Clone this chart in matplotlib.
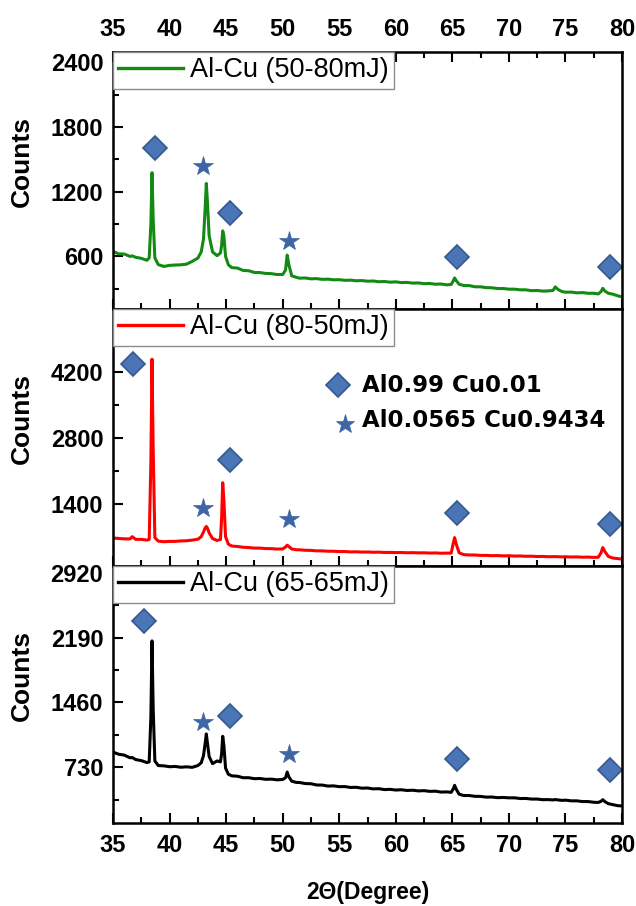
import matplotlib
matplotlib.use("Agg")
import matplotlib.pyplot as plt
from matplotlib.ticker import MultipleLocator, FixedLocator

# ---------------- data ----------------
two_theta = [35.0, 35.5, 36.0, 36.5, 36.7, 37.0, 37.5, 38.0, 38.2, 38.35,
             38.45, 38.55, 38.7, 39.0, 39.5, 40.0, 40.5, 41.0, 41.5, 42.0,
             42.5, 42.8, 43.0, 43.15, 43.25, 43.35, 43.5, 43.8, 44.2, 44.5,
             44.6, 44.7, 44.8, 44.95, 45.2, 45.5, 46.0, 46.5, 47.0, 47.5,
             48.0, 48.5, 49.0, 49.5, 50.0, 50.25, 50.4, 50.55, 50.8, 51.2,
             51.5, 52.0, 52.5, 53.0, 53.5, 54.0, 54.5, 55.0, 55.5, 56.0,
             56.5, 57.0, 57.5, 58.0, 58.5, 59.0, 59.5, 60.0, 60.5, 61.0,
             61.5, 62.0, 62.5, 63.0, 63.5, 64.0, 64.5, 64.9, 65.1, 65.2,
             65.35, 65.6, 66.0, 66.5, 67.0, 67.5, 68.0, 68.5, 69.0, 69.5,
             70.0, 70.5, 71.0, 71.5, 72.0, 72.5, 73.0, 73.5, 73.9, 74.1,
             74.35, 74.7, 75.0, 75.5, 76.0, 76.5, 77.0, 77.5, 77.9, 78.15,
             78.3, 78.5, 78.8, 79.2, 79.6, 80.0]

counts_50_80 = [645, 622, 620, 598, 603, 590, 580, 562, 585, 900,
                1375, 950, 585, 522, 505, 515, 518, 520, 526, 552,
                582, 640, 760, 1050, 1275, 1100, 790, 640, 605, 630,
                700, 835, 790, 600, 520, 494, 490, 468, 465, 449,
                448, 440, 438, 430, 430, 470, 610, 520, 418, 404,
                396, 398, 390, 392, 385, 387, 381, 382, 376, 378,
                372, 374, 368, 370, 363, 365, 359, 362, 355, 357,
                350, 352, 345, 347, 340, 342, 334, 338, 375, 398,
                372, 340, 328, 327, 316, 316, 308, 307, 300, 300,
                294, 294, 288, 288, 280, 282, 276, 278, 282, 315,
                290, 272, 266, 267, 260, 262, 256, 256, 250, 272,
                302, 275, 256, 247, 233, 222]

counts_80_50 = [690, 682, 673, 672, 720, 663, 662, 648, 660, 2300,
                4470, 2600, 700, 625, 613, 620, 620, 630, 633, 647,
                665, 720, 820, 905, 935, 900, 800, 680, 640, 660,
                1100, 1860, 1500, 720, 560, 522, 512, 496, 490, 478,
                478, 468, 467, 458, 460, 500, 540, 510, 460, 443,
                442, 432, 430, 420, 420, 412, 412, 404, 405, 398,
                400, 394, 396, 390, 392, 386, 388, 383, 385, 380,
                382, 377, 379, 373, 376, 370, 372, 372, 600, 700,
                560, 380, 340, 333, 332, 324, 324, 318, 320, 314,
                317, 310, 312, 305, 307, 300, 302, 296, 298, 298,
                296, 292, 296, 290, 292, 286, 288, 282, 285, 380,
                490, 400, 300, 268, 257, 245]

counts_65_65 = [900, 876, 866, 836, 839, 816, 804, 782, 790, 1300,
                2155, 1400, 800, 748, 745, 735, 738, 729, 734, 728,
                748, 780, 860, 1000, 1105, 1000, 850, 770, 800, 790,
                880, 1078, 980, 720, 650, 632, 628, 611, 611, 600,
                602, 593, 595, 587, 591, 610, 675, 620, 572, 558,
                557, 545, 543, 529, 528, 517, 519, 510, 511, 501,
                503, 493, 495, 485, 487, 477, 480, 472, 475, 467,
                470, 462, 465, 457, 459, 449, 451, 446, 490, 525,
                480, 425, 410, 410, 401, 400, 392, 393, 386, 388,
                384, 384, 376, 377, 370, 370, 363, 364, 360, 365,
                360, 355, 358, 350, 350, 342, 342, 334, 332, 345,
                363, 340, 318, 307, 296, 292]

series_labels = ["Al-Cu (50-80mJ)", "Al-Cu (80-50mJ)", "Al-Cu (65-65mJ)"]
series_colors = ["#138a13", "#ff0000", "#000000"]

# phase markers (x, y) per panel
diamond_x = [[38.7, 45.3, 65.4, 78.9], [36.8, 45.3, 65.4, 78.9], [37.7, 45.3, 65.4, 78.9]]
diamond_y = [[1600, 1000, 594, 500], [4361, 2345, 1211, 994], [2385, 1310, 824, 700]]
star_x = [[43.0, 50.6], [43.0, 50.6], [43.0, 50.6]]
star_y = [[1437, 740], [1316, 1085], [1235, 880]]

y_limits = [(110, 2495), (100, 5530), (100, 3000)]
y_ticks = [[600, 1200, 1800, 2400], [1400, 2800, 4200], [730, 1460, 2190, 2920]]
x_ticks = [35, 40, 45, 50, 55, 60, 65, 70, 75, 80]

phase_names = ["Al0.99 Cu0.01", "Al0.0565 Cu0.9434"]
phase_marker_x = [54.9, 55.5]
phase_marker_y = [3920, 3110]
phase_text_y = [3920, 3180]

# ---------------- figure ----------------
fig = plt.figure(figsize=(6.36, 9.06), dpi=100)
W, H = 636, 906
left_px, right_px = 113, 622
panel_px = [(52, 309), (309, 566), (566, 823)]

dfill = "#4a76b8"
dedge = "#36598f"
sfill = "#3d66a3"
tick_font = dict(family="Liberation Sans", weight="bold", size=17)

all_y = [counts_50_80, counts_80_50, counts_65_65]
axes = []
for i, (top, bot) in enumerate(panel_px):
    ax = fig.add_axes([left_px / W, 1 - bot / H, (right_px - left_px) / W, (bot - top) / H])
    axes.append(ax)
    ax.plot(two_theta, all_y[i], color=series_colors[i], lw=2.2, label=series_labels[i])
    ax.plot(diamond_x[i], diamond_y[i], ls="none", marker="D", ms=12,
            mfc=dfill, mec=dedge, mew=1.2, clip_on=False)
    ax.plot(star_x[i], star_y[i], ls="none", marker="*", ms=15,
            mfc=sfill, mec=sfill, mew=0.5)
    ax.set_xlim(35, 80)
    ax.set_ylim(*y_limits[i])
    ax.yaxis.set_major_locator(FixedLocator(y_ticks[i]))
    step = y_ticks[i][1] - y_ticks[i][0]
    ax.yaxis.set_minor_locator(MultipleLocator(step / 2))
    ax.xaxis.set_major_locator(FixedLocator(x_ticks))
    ax.xaxis.set_minor_locator(MultipleLocator(2.5))
    for sp in ax.spines.values():
        sp.set_linewidth(1.8)
    ax.tick_params(axis="both", which="both", direction="in", width=1.5,
                   right=False, top=(i == 0), bottom=True)
    ax.tick_params(which="major", length=7)
    ax.tick_params(which="minor", length=4)
    ax.tick_params(axis="y", pad=7)
    if i == 0:
        ax.tick_params(axis="x", labeltop=True, labelbottom=False, pad=8)
    elif i == 2:
        ax.tick_params(axis="x", labeltop=False, labelbottom=True, pad=8)
    else:
        ax.tick_params(axis="x", labeltop=False, labelbottom=False)
    for lab in ax.get_yticklabels() + ax.get_xticklabels():
        lab.set_fontfamily(tick_font["family"])
        lab.set_fontweight(tick_font["weight"])
        lab.set_fontsize(tick_font["size"])
    ax.set_ylabel("Counts", fontfamily="Liberation Sans", fontweight="bold", fontsize=19)
    ax.yaxis.set_label_coords(-0.155, 0.573)
    leg = ax.legend(loc="upper left", borderaxespad=0, fancybox=False,
                    edgecolor="#8c8c8c", framealpha=1, handlelength=2.4,
                    handletextpad=0.25, borderpad=0.2,
                    prop={"family": "Liberation Sans", "size": 19.5})
    leg.get_frame().set_linewidth(1.0)
    leg.get_lines()[0].set_linewidth(2.4)

# phase legend in the middle panel
ax = axes[1]
ax.plot(phase_marker_x[:1], phase_marker_y[:1], ls="none", marker="D", ms=12,
        mfc=dfill, mec=dedge, mew=1.2)
ax.plot(phase_marker_x[1:], phase_marker_y[1:], ls="none", marker="*", ms=14,
        mfc=sfill, mec=sfill, mew=0.5)
for name, ty in zip(phase_names, phase_text_y):
    ax.text(57.0, ty, name, fontfamily="DejaVu Sans", fontweight="bold",
            fontsize=16.5, va="center", ha="left")

fig.text((left_px + right_px) / 2 / W, 1 - 892 / H, "2\u0398(Degree)",
         fontfamily="Liberation Sans", fontweight="bold", fontsize=16.5,
         ha="center", va="center")

fig.savefig("out.png", dpi=100)
